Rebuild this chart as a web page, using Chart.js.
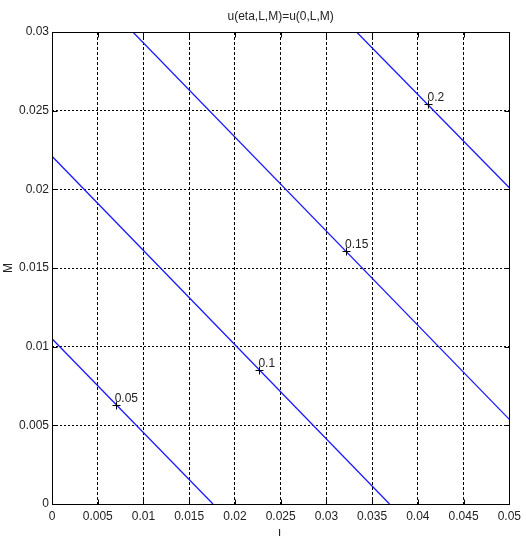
<!DOCTYPE html>
<html>
<head>
<meta charset="utf-8">
<script src="https://cdn.jsdelivr.net/npm/chart.js@4/dist/chart.umd.min.js"></script>
<style>
html,body{margin:0;padding:0;background:#fff;}
canvas{display:block;}
</style>
</head>
<body>
<canvas id="c" width="526" height="536"></canvas>
<script>
// ---- data ----
const titleText = 'u(eta,L,M)=u(0,L,M)';
const xTitle = 'L';
const yTitle = 'M';
const xTicks = [0, 0.005, 0.01, 0.015, 0.02, 0.025, 0.03, 0.035, 0.04, 0.045, 0.05];
const xTickLabels = ['0', '0.005', '0.01', '0.015', '0.02', '0.025', '0.03', '0.035', '0.04', '0.045', '0.05'];
const yTicks = [0, 0.005, 0.01, 0.015, 0.02, 0.025, 0.03];
const yTickLabels = ['0', '0.005', '0.01', '0.015', '0.02', '0.025', '0.03'];

const levels = ['0.05', '0.1', '0.15', '0.2'];
// contour line end points (L, M)
const line005X = [0, 0.0176];
const line005Y = [0.0105, 0];
const line010X = [0, 0.0369];
const line010Y = [0.0221, 0];
const line015X = [0.00884, 0.05];
const line015Y = [0.03, 0.00538];
const line020X = [0.0333, 0.05];
const line020Y = [0.03, 0.0201];
// contour label positions
const labelX = [0.00696, 0.02268, 0.03214, 0.04116];
const labelY = [0.0063, 0.00852, 0.0161, 0.0254];

const FONT = '"Liberation Sans Narrow", "Liberation Sans", Arial, sans-serif';
const TXT = '#222';

function pts(xs, ys) { return xs.map((v, i) => ({x: v, y: ys[i]})); }
function lineDs(xs, ys) {
  return {
    data: pts(xs, ys), showLine: true, borderColor: '#1a1aff', borderWidth: 1.3,
    pointRadius: 0, pointHoverRadius: 0, fill: false, tension: 0
  };
}

const decor = {
  id: 'decor',
  afterDatasetsDraw(chart) {
    const {ctx, chartArea: a, scales: {x, y}} = chart;
    ctx.save();
    ctx.strokeStyle = '#000';
    ctx.lineWidth = 1;
    ctx.setLineDash([]);
    const L = Math.round(a.left) + 0.5, R = Math.round(a.right) + 0.5;
    const T = Math.round(a.top) + 0.5, B = Math.round(a.bottom) + 0.5;
    ctx.beginPath();
    ctx.rect(L, T, R - L, B - T);
    // inward tick marks
    xTicks.forEach(v => {
      const px = Math.round(x.getPixelForValue(v)) + 0.5;
      ctx.moveTo(px, B); ctx.lineTo(px, B - 5);
      ctx.moveTo(px, T); ctx.lineTo(px, T + 5);
    });
    yTicks.forEach(v => {
      const py = Math.round(y.getPixelForValue(v)) + 0.5;
      ctx.moveTo(L, py); ctx.lineTo(L + 5, py);
      ctx.moveTo(R, py); ctx.lineTo(R - 5, py);
    });
    ctx.stroke();
    // contour label markers (+)
    ctx.beginPath();
    levels.forEach((t, i) => {
      const px = Math.round(x.getPixelForValue(labelX[i])) + 0.5;
      const py = Math.round(y.getPixelForValue(labelY[i])) + 0.5;
      ctx.moveTo(px - 4, py); ctx.lineTo(px + 4, py);
      ctx.moveTo(px, py - 4); ctx.lineTo(px, py + 4);
    });
    ctx.stroke();
    // contour labels
    ctx.fillStyle = TXT;
    ctx.font = '12px ' + FONT;
    ctx.textAlign = 'left';
    ctx.textBaseline = 'alphabetic';
    levels.forEach((t, i) => {
      const px = x.getPixelForValue(labelX[i]);
      const py = y.getPixelForValue(labelY[i]);
      ctx.fillText(t, px - 1, py - 3);
    });
    // axis titles
    ctx.fillText(xTitle, 278, 538);
    ctx.save();
    ctx.translate(9, (a.top + a.bottom) / 2);
    ctx.rotate(-Math.PI / 2);
    ctx.textAlign = 'center';
    ctx.textBaseline = 'middle';
    ctx.fillText(yTitle, 0, 0);
    ctx.restore();
    ctx.restore();
  }
};

new Chart(document.getElementById('c'), {
  type: 'scatter',
  data: {
    datasets: [
      lineDs(line005X, line005Y),
      lineDs(line010X, line010Y),
      lineDs(line015X, line015Y),
      lineDs(line020X, line020Y)
    ]
  },
  options: {
    responsive: false,
    animation: false,
    devicePixelRatio: 1,
    events: [],
    layout: {padding: {top: 0, right: 14, bottom: 0, left: 0}},
    plugins: {
      legend: {display: false},
      tooltip: {enabled: false},
      title: {
        display: true, text: titleText, fullSize: false, color: TXT,
        font: {family: FONT, size: 12, weight: 'normal', lineHeight: 1},
        padding: {top: 10.5, bottom: 9.5}
      }
    },
    scales: {
      x: {
        type: 'linear', min: 0, max: 0.05,
        afterBuildTicks: s => { s.ticks = xTicks.map(v => ({value: v})); },
        afterFit: s => { s.height = 32; },
        grid: {color: '#000', lineWidth: 1, drawTicks: false},
        border: {display: false, dash: [3, 2]},
        ticks: {
          color: TXT, padding: 5, maxRotation: 0, autoSkip: false,
          font: {family: FONT, size: 12},
          callback: (v, i) => xTickLabels[i]
        }
      },
      y: {
        type: 'linear', min: 0, max: 0.03,
        afterBuildTicks: s => { s.ticks = yTicks.map(v => ({value: v})); },
        afterFit: s => { s.width = 52; },
        grid: {color: '#000', lineWidth: 1, drawTicks: false},
        border: {display: false, dash: [2, 2]},
        ticks: {
          color: TXT, padding: 3, autoSkip: false,
          font: {family: FONT, size: 12},
          callback: (v, i) => yTickLabels[i]
        }
      }
    }
  },
  plugins: [decor]
});
</script>
</body>
</html>
